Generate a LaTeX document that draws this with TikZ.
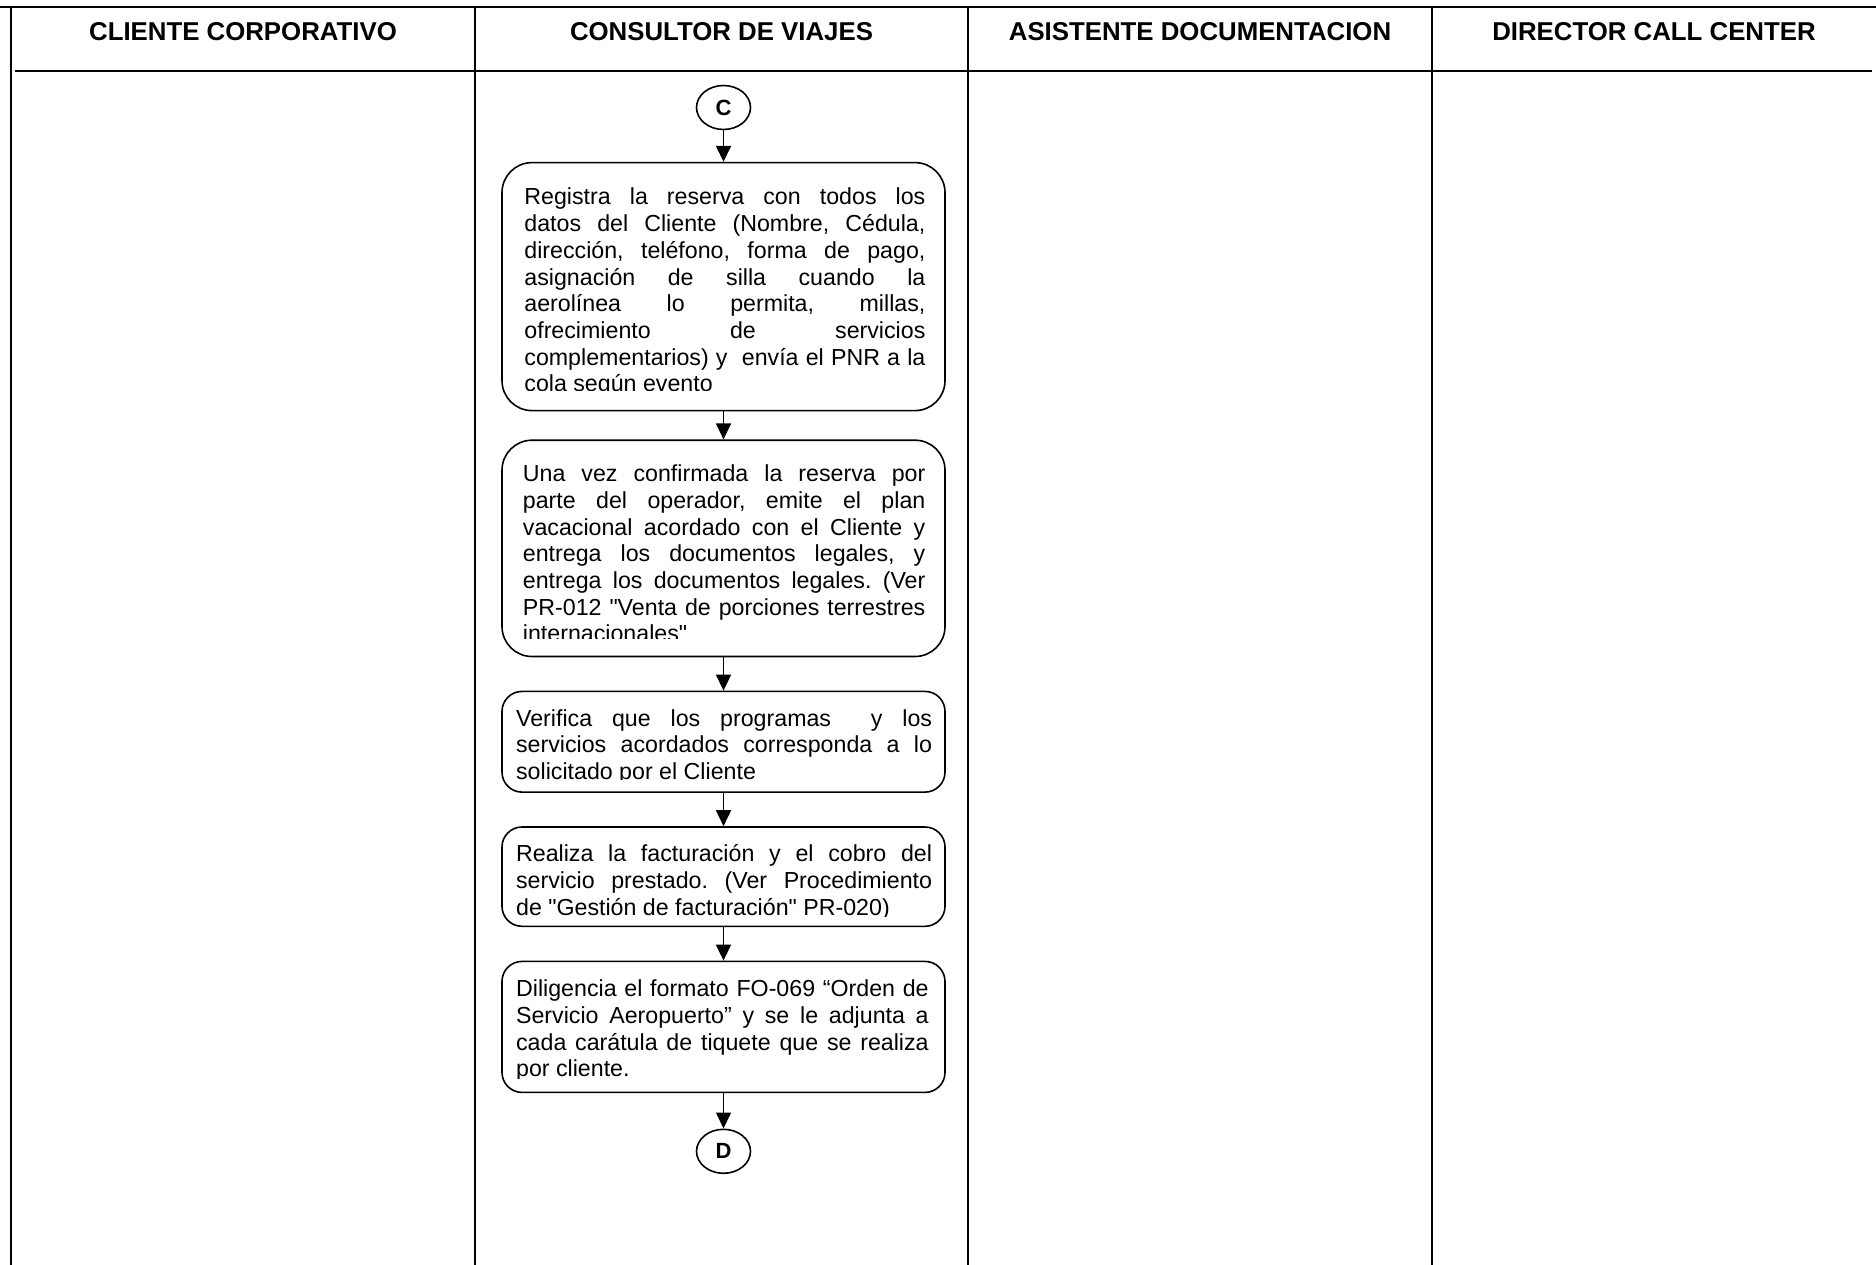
\documentclass[tikz,border=0pt]{standalone}
\usepackage{fontspec}
\setmainfont{Liberation Sans}
\usetikzlibrary{arrows.meta,positioning,shapes.geometric}
\hbadness=10000
\frenchspacing

\begin{document}
\begin{tikzpicture}[
  x=1pt, y=-1pt,
  lane/.style={line width=2pt, draw=black},
  head/.style={font=\fontsize{25.8}{30}\selectfont\bfseries, anchor=base, inner sep=0pt},
  conn/.style={draw, ellipse, line width=1.6pt, minimum width=54pt, minimum height=44pt, inner sep=0pt, font=\fontsize{22}{24}\selectfont\bfseries},
  box/.style={draw, line width=1.6pt, minimum width=443pt, inner sep=0pt},
  txt/.style={anchor=north west, inner sep=0pt, align=justify, font=\fontsize{23.2}{26.7}\selectfont},
  arr/.style={-{Triangle[length=16pt, width=15pt]}, line width=1.6pt}
]
\useasboundingbox (0,0) rectangle (1876,1265);
\draw[lane] (0,7) -- (1876,7);
\draw[lane] (15,70.7) -- (1872,70.7);
\draw[lane] (11,7) -- (11,1265);
\foreach \x in {475,968,1431.7}
  \draw[lane] (\x,7) -- (\x,1265);

\node[head] (cli) at (243,41) {CLIENTE CORPORATIVO};
\node[head] (cons) at (721.5,41) {CONSULTOR DE VIAJES};
\node[head] (asis) at (1200,41) {ASISTENTE DOCUMENTACION};
\node[head] (dir) at (1654,41) {DIRECTOR CALL CENTER};

\node[conn] (c) at (723.5,107.5) {C};
\node[box, rounded corners=30pt, minimum height=248pt, below=31.5pt of c] (reg) {};
\node[box, rounded corners=30pt, minimum height=216.3pt, below=28pt of reg] (conf) {};
\node[box, rounded corners=20pt, minimum height=100.7pt, below=33.3pt of conf] (verif) {};
\node[box, rounded corners=20pt, minimum height=99.3pt, below=33.3pt of verif] (fact) {};
\node[box, rounded corners=20pt, minimum height=131pt, below=33.5pt of fact] (dilig) {};
\node[conn, below=35.3pt of dilig] (d) {D};

\begin{scope}
  \clip (reg.north west) rectangle ([yshift=21pt]reg.south east);
  \node[txt, text width=401pt] at ([xshift=23pt, yshift=-23pt]reg.north west) {\rule{0pt}{20pt}Registra la reserva con todos los\linebreak
    datos del Cliente (Nombre, Cédula,\linebreak
    dirección, teléfono, forma de pago,\linebreak
    asignación de silla cuando la\linebreak
    aerolínea lo permita, millas,\linebreak
    ofrecimiento de servicios\linebreak
    complementarios) y\ \ envía el PNR a la\linebreak
    cola según evento};
\end{scope}
\begin{scope}
  \clip (conf.north west) rectangle ([yshift=19pt]conf.south east);
  \node[txt, text width=402.5pt] at ([xshift=21.5pt, yshift=-22pt]conf.north west) {\rule{0pt}{20pt}Una vez confirmada la reserva por\linebreak
    parte del operador, emite el plan\linebreak
    vacacional acordado con el Cliente y\linebreak
    entrega los documentos legales, y\linebreak
    entrega los documentos legales. (Ver\linebreak
    PR-012 \textquotedbl Venta de porciones terrestres\linebreak
    internacionales\textquotedbl};
\end{scope}
\begin{scope}
  \clip (verif.north west) rectangle ([yshift=13pt]verif.south east);
  \node[txt, text width=416pt] at ([xshift=14.7pt, yshift=-15.3pt]verif.north west) {\rule{0pt}{20pt}Verifica que los programas\ \ y los\linebreak
    servicios acordados corresponda a lo\linebreak
    solicitado por el Cliente};
\end{scope}
\begin{scope}
  \clip (fact.north west) rectangle ([yshift=11pt]fact.south east);
  \node[txt, text width=416pt] at ([xshift=14.7pt, yshift=-15.3pt]fact.north west) {\rule{0pt}{20pt}Realiza la facturación y el cobro del\linebreak
    servicio prestado. (Ver Procedimiento\linebreak
    de \textquotedbl Gestión de facturación\textquotedbl{} PR-020)};
\end{scope}
\begin{scope}
  \clip (dilig.north west) rectangle ([yshift=14.7pt]dilig.south east);
  \node[txt, text width=412.6pt] at ([xshift=14.7pt, yshift=-16pt]dilig.north west) {\rule{0pt}{20pt}Diligencia el formato FO-069 “Orden de\linebreak
    Servicio Aeropuerto” y se le adjunta a\linebreak
    cada carátula de tiquete que se realiza\linebreak
    por cliente.};
\end{scope}

\draw[arr] (c) -- (reg);
\draw[arr] (reg) -- (conf);
\draw[arr] (conf) -- (verif);
\draw[arr] (verif) -- (fact);
\draw[arr] (fact) -- (dilig);
\draw[arr] (dilig) -- (d);
\end{tikzpicture}
\end{document}
